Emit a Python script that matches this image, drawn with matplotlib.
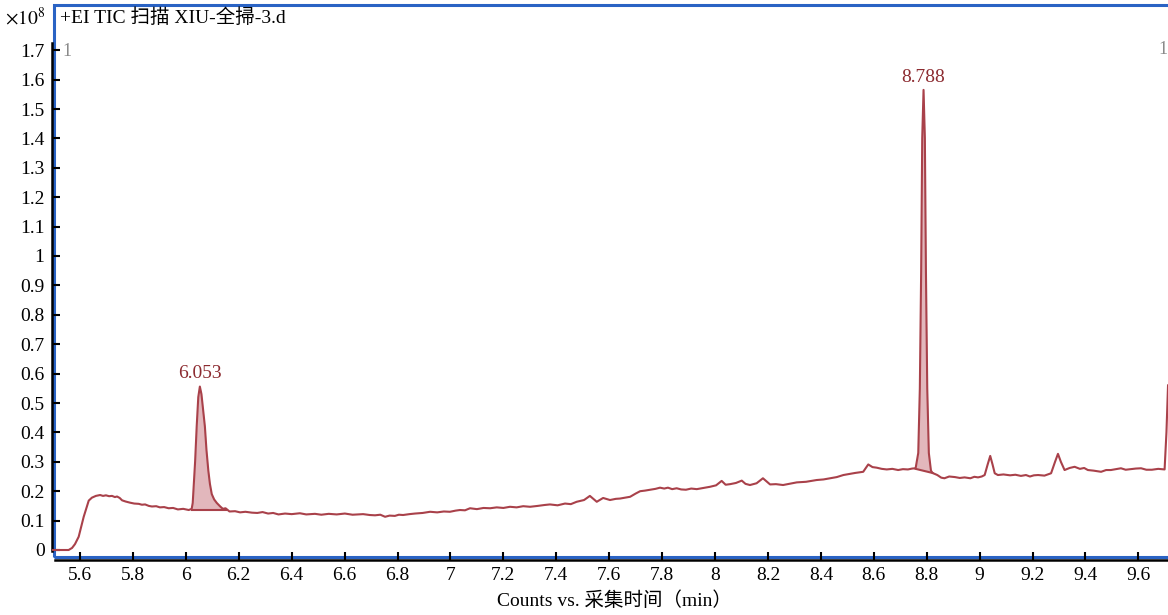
import matplotlib
matplotlib.use("Agg")
import matplotlib.pyplot as plt
from matplotlib.patches import Rectangle
import numpy as np

plt.rcParams['font.family'] = ['Liberation Serif', 'Noto Sans CJK SC', 'DejaVu Sans']
plt.rcParams['mathtext.fontset'] = 'stix'

# ---- data (retention time in min, counts x1e8) ----
times = [5.490, 5.557, 5.570, 5.581, 5.595, 5.614, 5.633, 5.645, 5.660, 5.676,
         5.687, 5.698, 5.710, 5.721, 5.732, 5.740, 5.750, 5.759, 5.772, 5.789,
         5.805, 5.822, 5.834, 5.846, 5.860, 5.872, 5.888, 5.902, 5.918, 5.935,
         5.952, 5.970, 5.990, 6.011,
         6.022, 6.026, 6.030, 6.035, 6.041, 6.047, 6.053, 6.059, 6.065, 6.072,
         6.078, 6.085, 6.091, 6.098, 6.107, 6.117, 6.130, 6.140, 6.150,
         6.165, 6.186, 6.205, 6.225, 6.250, 6.270, 6.290, 6.311, 6.330, 6.350,
         6.375, 6.400, 6.431, 6.455, 6.488, 6.512, 6.540, 6.570, 6.601, 6.630,
         6.670, 6.695, 6.715, 6.735, 6.753, 6.770, 6.790, 6.805, 6.821, 6.845,
         6.866, 6.895, 6.923, 6.950, 6.975, 6.998, 7.020, 7.036, 7.055, 7.074,
         7.100, 7.125, 7.150, 7.175, 7.200, 7.225, 7.250, 7.275, 7.301, 7.330,
         7.355, 7.376, 7.405, 7.433, 7.455, 7.477, 7.505, 7.527, 7.553, 7.577,
         7.603, 7.625, 7.641, 7.660, 7.679, 7.700, 7.717, 7.735, 7.754, 7.775,
         7.792, 7.808, 7.822, 7.838, 7.855, 7.872, 7.890, 7.910, 7.931, 7.955,
         7.981, 8.004, 8.025, 8.040, 8.057, 8.079, 8.101, 8.115, 8.132, 8.157,
         8.181, 8.208, 8.230, 8.257, 8.285, 8.309, 8.344, 8.365, 8.384, 8.410,
         8.434, 8.460, 8.485, 8.510, 8.529, 8.560, 8.579, 8.595, 8.611, 8.630,
         8.649, 8.670, 8.692, 8.710, 8.729, 8.745, 8.758,
         8.768, 8.774, 8.779, 8.783, 8.788, 8.793, 8.797, 8.802, 8.808, 8.816,
         8.822, 8.840, 8.855, 8.867, 8.885, 8.907, 8.925, 8.943, 8.965, 8.980,
         8.994, 9.008, 9.019, 9.030, 9.040, 9.049, 9.057, 9.069, 9.090, 9.115,
         9.135, 9.156, 9.175, 9.190, 9.205, 9.221, 9.245, 9.270, 9.285, 9.296,
         9.307, 9.321, 9.340, 9.359, 9.379, 9.395, 9.409, 9.430, 9.459, 9.478,
         9.496, 9.515, 9.534, 9.552, 9.572, 9.590, 9.610, 9.630, 9.651, 9.675,
         9.699, 9.706, 9.712]
counts = [0.000, 0.000, 0.007, 0.020, 0.045, 0.113, 0.168, 0.178, 0.184, 0.187,
          0.184, 0.186, 0.183, 0.184, 0.180, 0.182, 0.177, 0.169, 0.165, 0.161,
          0.158, 0.157, 0.154, 0.155, 0.150, 0.148, 0.149, 0.145, 0.146, 0.142,
          0.143, 0.138, 0.140, 0.136,
          0.140, 0.160, 0.220, 0.300, 0.420, 0.520, 0.556, 0.530, 0.480, 0.420,
          0.340, 0.270, 0.225, 0.190, 0.172, 0.160, 0.148, 0.140, 0.142,
          0.131, 0.132, 0.128, 0.130, 0.127, 0.126, 0.129, 0.124, 0.126, 0.121,
          0.124, 0.122, 0.125, 0.121, 0.123, 0.120, 0.123, 0.121, 0.124, 0.120,
          0.122, 0.119, 0.118, 0.120, 0.113, 0.117, 0.116, 0.120, 0.119, 0.122,
          0.124, 0.126, 0.130, 0.128, 0.131, 0.130, 0.134, 0.136, 0.135, 0.142,
          0.139, 0.143, 0.142, 0.145, 0.143, 0.147, 0.145, 0.149, 0.147, 0.150,
          0.153, 0.155, 0.152, 0.158, 0.156, 0.164, 0.170, 0.184, 0.164, 0.177,
          0.170, 0.174, 0.175, 0.178, 0.181, 0.192, 0.200, 0.202, 0.205, 0.208,
          0.212, 0.209, 0.212, 0.207, 0.210, 0.206, 0.205, 0.209, 0.207, 0.211,
          0.215, 0.220, 0.235, 0.222, 0.224, 0.228, 0.236, 0.225, 0.221, 0.227,
          0.244, 0.223, 0.224, 0.221, 0.226, 0.230, 0.232, 0.235, 0.238, 0.240,
          0.244, 0.248, 0.255, 0.259, 0.262, 0.266, 0.291, 0.282, 0.280, 0.276,
          0.274, 0.276, 0.272, 0.275, 0.274, 0.277, 0.278,
          0.330, 0.550, 0.950, 1.400, 1.565, 1.400, 0.950, 0.550, 0.330, 0.270,
          0.262, 0.255, 0.246, 0.244, 0.250, 0.248, 0.245, 0.247, 0.244, 0.249,
          0.247, 0.250, 0.255, 0.290, 0.320, 0.290, 0.261, 0.255, 0.257, 0.254,
          0.256, 0.252, 0.255, 0.250, 0.254, 0.255, 0.253, 0.261, 0.300, 0.327,
          0.300, 0.272, 0.279, 0.283, 0.276, 0.279, 0.272, 0.270, 0.266, 0.272,
          0.272, 0.275, 0.278, 0.273, 0.275, 0.277, 0.278, 0.273, 0.273, 0.276,
          0.274, 0.400, 0.560]

peak_labels = ['6.053', '8.788']
peak_rt = [6.053, 8.788]
peak_height = [0.556, 1.565]
peak_start = [6.022, 8.758]
peak_end = [6.150, 8.822]
base_start = [0.136, 0.276]
base_end = [0.136, 0.262]

x_ticks = [5.6, 5.8, 6.0, 6.2, 6.4, 6.6, 6.8, 7.0, 7.2, 7.4, 7.6, 7.8, 8.0,
           8.2, 8.4, 8.6, 8.8, 9.0, 9.2, 9.4, 9.6]
x_tick_labels = ['5.6', '5.8', '6', '6.2', '6.4', '6.6', '6.8', '7', '7.2', '7.4',
                 '7.6', '7.8', '8', '8.2', '8.4', '8.6', '8.8', '9', '9.2', '9.4', '9.6']
y_ticks = [0, 0.1, 0.2, 0.3, 0.4, 0.5, 0.6, 0.7, 0.8, 0.9, 1.0, 1.1, 1.2, 1.3,
           1.4, 1.5, 1.6, 1.7]
y_tick_labels = ['0', '0.1', '0.2', '0.3', '0.4', '0.5', '0.6', '0.7', '0.8', '0.9',
                 '1', '1.1', '1.2', '1.3', '1.4', '1.5', '1.6', '1.7']

title_text = '+EI TIC 扫描 XIU-全掃-3.d'
x_label = 'Counts vs. 采集时间（min）'

# ---- figure ----
W, H = 1168, 615
fig = plt.figure(figsize=(W / 100, H / 100), dpi=100)
fig.patch.set_facecolor('white')

def fx(px):
    return px / W

def fy(py):
    return 1 - py / H

ax_left, ax_right, ax_top, ax_bottom = 51.5, 1168, 43, 560
ax = fig.add_axes([fx(ax_left), fy(ax_bottom), fx(ax_right - ax_left),
                   (ax_bottom - ax_top) / H])
ax.set_facecolor('none')

trace_color = '#a9414a'
fill_color = '#dfb0b5'
label_color = '#8c2b30'

t = np.array(times)
c = np.array(counts)
ax.plot(t, c, color=trace_color, lw=1.5, zorder=3, solid_joinstyle='round')

for s, e, bs, be in zip(peak_start, peak_end, base_start, base_end):
    m = (t >= s) & (t <= e)
    tt = t[m]
    base = np.interp(tt, [s, e], [bs, be])
    ax.fill_between(tt, base, c[m], color=fill_color, alpha=0.9, lw=0, zorder=2)
    ax.plot([s, e], [bs, be], color=trace_color, lw=1.5, zorder=3)

for lab, rt, h in zip(peak_labels, peak_rt, peak_height):
    ax.annotate(lab, xy=(rt, h), xytext=(0, 3), textcoords='offset points',
                ha='center', va='bottom', fontsize=14, color=label_color)

xmin = 5.6 - (80 - ax_left) / 264.6
xmax = 5.6 + (ax_right - 80) / 264.6
ymin = -(ax_bottom - 550) / 294.0
ymax = (550 - ax_top) / 294.0
ax.set_xlim(xmin, xmax)
ax.set_ylim(ymin, ymax)

ax.set_xticks(x_ticks)
ax.set_xticklabels(x_tick_labels)
ax.set_yticks(y_ticks)
ax.set_yticklabels(y_tick_labels)
ax.tick_params(axis='both', direction='in', length=6, width=1.5, color='black',
               labelsize=14, pad=5)
ax.tick_params(axis='x', pad=5)

for side in ['top', 'right']:
    ax.spines[side].set_visible(False)
ax.spines['left'].set_linewidth(1.8)
ax.spines['bottom'].set_linewidth(1.8)
ax.spines['left'].set_bounds(ymin + 0.03, ymax)
ax.spines['bottom'].set_bounds(xmin + 0.012, xmax)

# blue frame
frame = Rectangle((fx(54), fy(556.5)), fx(1200 - 54), (556.5 - 5) / H,
                  transform=fig.transFigure, fill=False, edgecolor='#2a63c4',
                  lw=2.2, zorder=-1)
fig.patches.append(frame)

fig.text(fx(60), fy(18), title_text, fontsize=14, ha='left', va='center')
fig.text(fx(45), fy(18), r'$\times10^{8}$', fontsize=14, ha='right', va='center')
fig.text(fx(62), fy(52), '1', fontsize=13, color='#8a8a8a', ha='left', va='center')
fig.text(fx(1158), fy(50), '1', fontsize=13, color='#8a8a8a', ha='left', va='center')
fig.text(fx(614), fy(601), x_label, fontsize=14, ha='center', va='center')

fig.savefig('out.png', dpi=100, facecolor='white')
